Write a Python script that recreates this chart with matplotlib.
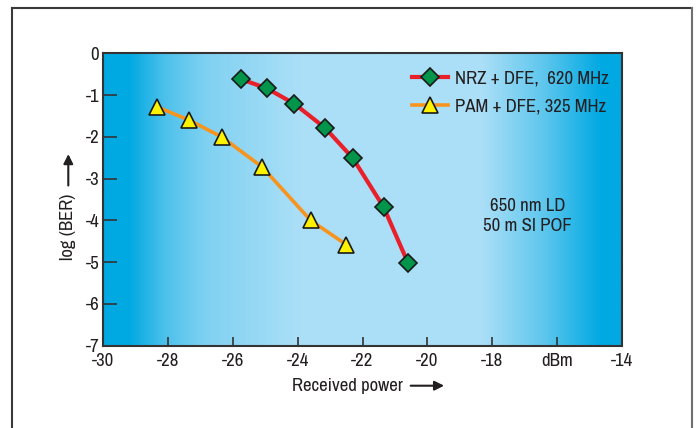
import matplotlib
matplotlib.use("Agg")
import matplotlib.pyplot as plt
import numpy as np
from matplotlib import font_manager
from matplotlib.colors import to_rgb
from matplotlib.lines import Line2D

# pick a condensed face if one is installed, else Roboto
names = sorted({f.name for f in font_manager.fontManager.ttflist})
narrow = [n for n in names if 'Condensed' in n or 'Narrow' in n]
if narrow:
    base_font, fs = narrow[0], 13.5
else:
    base_font, fs = 'Roboto', 12
plt.rcParams['font.family'] = [base_font, 'DejaVu Sans']
plt.rcParams['axes.unicode_minus'] = False

# data
nrz_power = [-25.75, -24.95, -24.1, -23.15, -22.3, -21.35, -20.6]
nrz_logber = [-0.62, -0.84, -1.21, -1.79, -2.51, -3.68, -5.01]
pam_power = [-28.35, -27.35, -26.35, -25.1, -23.6, -22.5]
pam_logber = [-1.28, -1.60, -2.0, -2.72, -4.0, -4.58]

x_ticks = [-30, -28, -26, -24, -22, -20, -18, -16, -14]
x_labels = ['-30', '-28', '-26', '-24', '-22', '-20', '-18', 'dBm', '-14']
y_ticks = [0, -1, -2, -3, -4, -5, -6, -7]

text_col = '#231f20'
dark_blue = np.array(to_rgb('#00a9e2'))
light_blue = np.array(to_rgb('#abdff7'))

W, H = 696, 428
fig = plt.figure(figsize=(W / 100, H / 100), dpi=100)
ax = fig.add_axes([103.3 / W, 1 - 345.7 / H, (621.7 - 103.3) / W, (345.7 - 53.3) / H])

# horizontal background gradient (dark - light - dark)
frac = np.linspace(0, 1, 800)
stops = [0.0, 0.05, 0.12, 0.2, 0.38, 0.73, 0.85, 0.96, 1.0]
level = [0, 0, 0.45, 0.75, 1, 1, 0.55, 0, 0]
mix = np.interp(frac, stops, level)[:, None]
grad = (dark_blue * (1 - mix) + light_blue * mix)[None, :, :]
ax.imshow(grad, extent=[-30, -14, -7, 0], aspect='auto', zorder=0, interpolation='bilinear')

ax.plot(nrz_power, nrz_logber, color='#e8202a', lw=3, marker='D', ms=9,
        mfc='#00954a', mec='#1a1a1a', mew=1.2, zorder=3, label='NRZ + DFE,  620 MHz')
ax.plot(pam_power, pam_logber, color='#f7941d', lw=2.6, marker='^', ms=11,
        mfc='#fff200', mec='#1a1a1a', mew=1.2, zorder=3, label='PAM + DFE, 325 MHz')

ax.set_xlim(-30, -14)
ax.set_ylim(-7, 0)
ax.set_xticks(x_ticks)
ax.set_xticklabels(x_labels)
ax.set_yticks(y_ticks)
ax.tick_params(axis='y', direction='in', length=10, width=1.2, pad=3,
               labelsize=fs, colors='#333333', labelcolor=text_col)
ax.tick_params(axis='x', direction='in', length=6.5, width=1.2, pad=5,
               labelsize=fs, colors='#333333', labelcolor=text_col)
for sp in ax.spines.values():
    sp.set_linewidth(1.5)
    sp.set_color('#333333')

leg = ax.legend(loc='upper right', bbox_to_anchor=(0.997, 0.98), frameon=False,
                fontsize=fs, handlelength=1.9, handletextpad=0.4, labelspacing=0.65,
                borderaxespad=0.2)
for t in leg.get_texts():
    t.set_color(text_col)

ax.text(-16.9, -3.9, '650 nm LD\n50 m SI POF', ha='center', va='center',
        fontsize=fs, color=text_col, linespacing=1.3)

# axis labels, arrows placed after the text extent
xlab = fig.text(292 / W, 1 - 385.7 / H, 'Received power', ha='left', va='center',
                fontsize=fs, color=text_col)
ylab = fig.text(68 / W, 1 - 226.5 / H, 'log (BER)', ha='center', va='center', rotation=90,
                fontsize=fs, color=text_col)
fig.canvas.draw()
r = fig.canvas.get_renderer()
xb = xlab.get_window_extent(r)
yb = ylab.get_window_extent(r)
ax.annotate('', xy=(xb.x1 + 44, H - 385.7), xytext=(xb.x1 + 5, H - 385.7),
            xycoords='figure pixels',
            arrowprops=dict(arrowstyle='-|>', color=text_col, lw=1.5, mutation_scale=14))
ax.annotate('', xy=(68.3, yb.y1 + 42), xytext=(68.3, yb.y1 + 5), xycoords='figure pixels',
            arrowprops=dict(arrowstyle='-|>', color=text_col, lw=1.5, mutation_scale=14))

# outer frame (bottom edge is cut off)
fig.add_artist(Line2D([11.5 / W, 11.5 / W], [-0.05, 1 - 8 / H], transform=fig.transFigure,
                      color='#3a3a3a', lw=1.5))
fig.add_artist(Line2D([11.5 / W, 691.7 / W], [1 - 8 / H, 1 - 8 / H], transform=fig.transFigure,
                      color='#3a3a3a', lw=1.5))
fig.add_artist(Line2D([691.7 / W, 691.7 / W], [-0.05, 1 - 8 / H], transform=fig.transFigure,
                      color='#707070', lw=1.5))

fig.savefig('out.png', dpi=100)
